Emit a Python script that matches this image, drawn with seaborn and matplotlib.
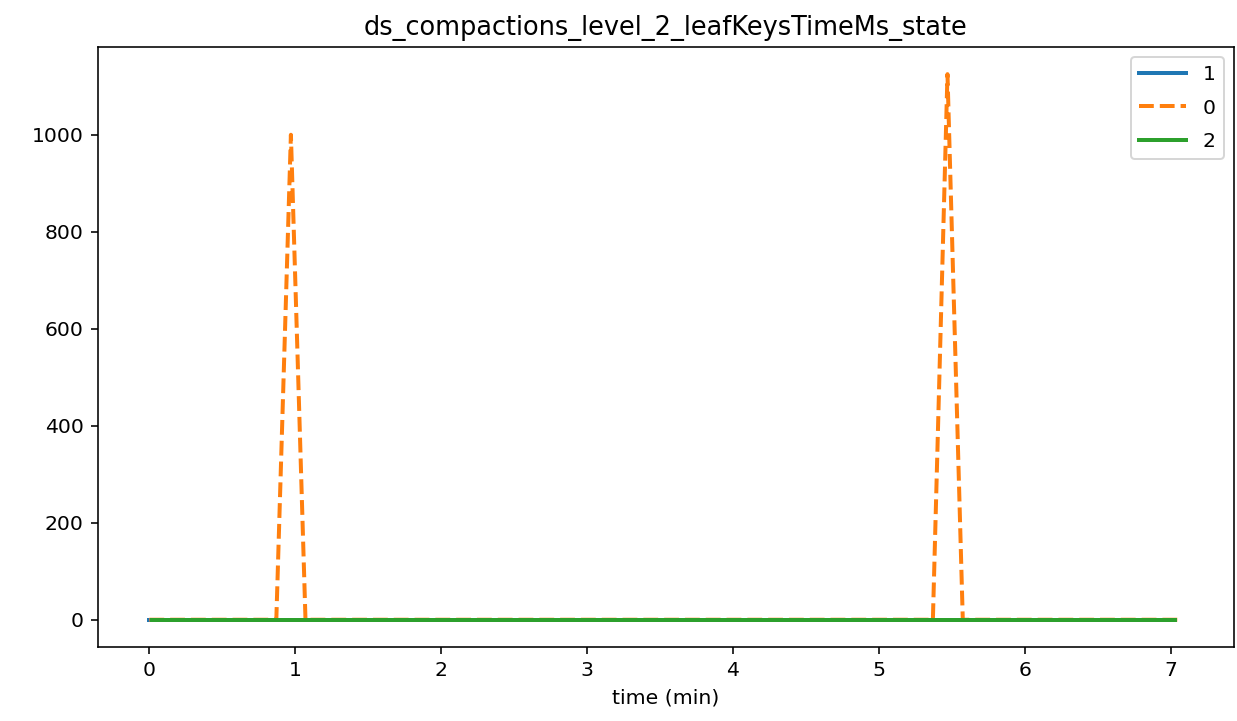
import matplotlib
matplotlib.use("Agg")
import matplotlib.pyplot as plt
import pandas as pd
import seaborn as sns

# series keyed by state
t_1 = [0.0, 7.03]
v_1 = [0, 0]
t_0 = [0.0, 0.87, 0.97, 1.07, 5.37, 5.47, 5.575, 7.08]
v_0 = [0, 0, 1000, 0, 0, 1125, 0, 0]
t_2 = [0.02, 7.03]
v_2 = [0, 0]

df = pd.concat([
    pd.DataFrame({"time": t_1, "value": v_1, "state": "1"}),
    pd.DataFrame({"time": t_0, "value": v_0, "state": "0"}),
    pd.DataFrame({"time": t_2, "value": v_2, "state": "2"}),
])

plt.rcParams["font.size"] = 10.2
plt.rcParams["lines.linewidth"] = 2.0

fig, ax = plt.subplots(figsize=(1237 / 144, 721 / 144), dpi=144)
sns.lineplot(data=df, x="time", y="value", hue="state", style="state",
             hue_order=["1", "0", "2"], style_order=["1", "0", "2"],
             dashes={"1": "", "0": (3.7, 1.5), "2": ""},
             palette=["#1f77b4", "#ff7f0e", "#2ca02c"], linewidth=2.0, ax=ax)
ax.set_title("ds_compactions_level_2_leafKeysTimeMs_state", fontsize=12.8)
ax.set_xlabel("time (min)")
ax.set_ylabel("")
ax.legend(loc="upper right", handlelength=2.3, labelspacing=0.7)
plt.subplots_adjust(left=0.079, right=0.9976, top=0.935, bottom=0.1026)
plt.savefig("out.png", dpi=144)
